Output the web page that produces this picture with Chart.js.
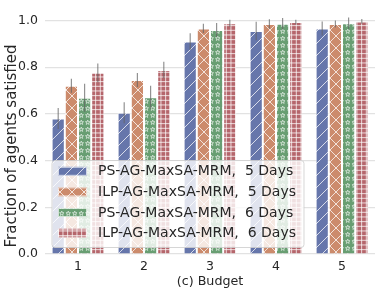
<!DOCTYPE html>
<html><head><meta charset="utf-8">
<script src="https://cdn.jsdelivr.net/npm/chart.js@4.4.1/dist/chart.umd.min.js"></script>
<style>html,body{margin:0;padding:0;background:#fff;overflow:hidden}</style>
</head><body>
<canvas id="c" width="391" height="292"></canvas>
<script>
const categories = ['1', '2', '3', '4', '5'];
const seriesNames = ['PS-AG-MaxSA-MRM,  5 Days', 'ILP-AG-MaxSA-MRM,  5 Days', 'PS-AG-MaxSA-MRM,  6 Days', 'ILP-AG-MaxSA-MRM,  6 Days'];
const ps5 = [0.580, 0.605, 0.910, 0.955, 0.966];
const ilp5 = [0.720, 0.745, 0.966, 0.985, 0.985];
const ps6 = [0.669, 0.671, 0.959, 0.986, 0.988];
const ilp6 = [0.776, 0.788, 0.988, 0.993, 0.996];
const ps5Err = [0.045, 0.045, 0.035, 0.040, 0.030];
const ilp5Err = [0.030, 0.030, 0.020, 0.020, 0.015];
const ps6Err = [0.060, 0.050, 0.030, 0.025, 0.025];
const ilp6Err = [0.040, 0.035, 0.015, 0.010, 0.010];
const yTicks = [0, 0.2, 0.4, 0.6, 0.8, 1.0];
const xTitle = '(c) Budget';
const yTitle = 'Fraction of agents satisfied';

const FONT = 'DejaVu Sans';
const TXT = '#262626';
const colors = ['#6676ab', '#cc8b6c', '#689e72', '#b5666c'];
const kinds = ['slash', 'cross', 'star', 'plus'];
const HATCH = 'rgba(255,255,255,0.75)';

function makePattern(color, kind) {
  const c = document.createElement('canvas');
  let w = 12, h = 12;
  if (kind === 'star') { w = 13; h = 14; }
  if (kind === 'plus') { w = 14; h = 14; }
  c.width = w; c.height = h;
  const g = c.getContext('2d');
  g.fillStyle = color; g.fillRect(0, 0, w, h);
  g.strokeStyle = HATCH; g.lineWidth = 1;
  const line = (a, b, cc, d) => { g.beginPath(); g.moveTo(a, b); g.lineTo(cc, d); g.stroke(); };
  if (kind === 'slash' || kind === 'cross') {
    line(-1, h + 1, w + 1, -1);
    line(-1, 1, 1, -1);
    line(w - 1, h + 1, w + 1, h - 1);
  }
  if (kind === 'cross') {
    line(-1, -1, w + 1, h + 1);
    line(w - 1, -1, w + 1, 1);
    line(-1, h - 1, 1, h + 1);
  }
  if (kind === 'plus') {
    for (let k = 0; k < 3; k++) {
      const p = 2.3 + k * 14 / 3;
      line(p, 0, p, h); line(0, p, w, p);
    }
  }
  if (kind === 'star') {
    g.lineWidth = 0.8;
    const pts = [[3.25, 3.5], [9.75, 3.5], [3.25, 10.5], [9.75, 10.5]];
    pts.forEach(([cx, cy]) => {
      g.beginPath();
      for (let i = 0; i < 10; i++) {
        const r = i % 2 === 0 ? 2.4 : 1.0;
        const a = -Math.PI / 2 + i * Math.PI / 5;
        const x = cx + r * Math.cos(a), y = cy + r * Math.sin(a);
        if (i === 0) g.moveTo(x, y); else g.lineTo(x, y);
      }
      g.closePath(); g.stroke();
    });
  }
  return document.getElementById('c').getContext('2d').createPattern(c, 'repeat');
}
const patterns = colors.map((col, i) => makePattern(col, kinds[i]));
const seriesValues = [ps5, ilp5, ps6, ilp6];
const seriesErrs = [ps5Err, ilp5Err, ps6Err, ilp6Err];

const errorBars = {
  id: 'errorBars',
  afterDatasetsDraw(chart) {
    const ctx = chart.ctx, ys = chart.scales.y;
    ctx.save();
    ctx.strokeStyle = 'rgba(100,100,100,0.7)';
    ctx.lineWidth = 1.2;
    chart.data.datasets.forEach((ds, i) => {
      const meta = chart.getDatasetMeta(i);
      meta.data.forEach((el, j) => {
        const v = ds.data[j], e = seriesErrs[i][j];
        ctx.beginPath();
        ctx.moveTo(el.x, ys.getPixelForValue(v - e));
        ctx.lineTo(el.x, ys.getPixelForValue(v + e));
        ctx.stroke();
      });
    });
    ctx.restore();
  },
  afterDraw(chart) {
    const ctx = chart.ctx;
    ctx.save();
    ctx.fillStyle = TXT;
    ctx.font = '15px "' + FONT + '"';
    ctx.textAlign = 'center'; ctx.textBaseline = 'middle';
    ctx.translate(12, 146); ctx.rotate(-Math.PI / 2);
    ctx.fillText(yTitle, 0, 0);
    ctx.restore();
    ctx.save();
    const lx = 52, ly = 160.5, lw = 252, lh = 87;
    ctx.beginPath();
    if (ctx.roundRect) ctx.roundRect(lx, ly, lw, lh, 3); else ctx.rect(lx, ly, lw, lh);
    ctx.fillStyle = 'rgba(255,255,255,0.8)';
    ctx.fill();
    ctx.strokeStyle = 'rgba(204,204,204,0.8)';
    ctx.lineWidth = 1;
    ctx.stroke();
    ctx.font = '14px "' + FONT + '"';
    ctx.textAlign = 'left'; ctx.textBaseline = 'middle';
    seriesNames.forEach((name, i) => {
      const cy = 171.3 + i * 20.6;
      ctx.fillStyle = patterns[i];
      ctx.fillRect(58, cy - 4.5, 29, 9);
      ctx.strokeStyle = 'rgba(255,255,255,0.7)';
      ctx.strokeRect(58.5, cy - 4, 28, 8);
      ctx.fillStyle = TXT;
      ctx.fillText(name, 98, cy + 0.5);
    });
    ctx.restore();
  }
};

new Chart(document.getElementById('c'), {
  type: 'bar',
  data: {
    labels: categories,
    datasets: seriesNames.map((n, i) => ({
      label: n,
      data: seriesValues[i],
      backgroundColor: patterns[i],
      borderColor: 'rgba(255,255,255,0.7)',
      borderWidth: 1,
      categoryPercentage: 0.8,
      barPercentage: 1.0
    }))
  },
  options: {
    responsive: false,
    animation: false,
    devicePixelRatio: 1,
    layout: { padding: { left: 0, right: 16, top: 8.8, bottom: 0 } },
    plugins: { legend: { display: false }, tooltip: { enabled: false } },
    scales: {
      x: {
        grid: { display: false, drawTicks: false },
        border: { display: false },
        ticks: { color: TXT, font: { family: FONT, size: 12.5 }, padding: 5 },
        title: { display: true, text: xTitle, color: TXT, font: { family: FONT, size: 12.7 }, padding: { top: 0, bottom: 3 } },
        afterFit(s) { s.height = 38; s.paddingLeft = 0; s.paddingRight = 0; }
      },
      y: {
        min: 0, max: 1.05,
        grid: { color: '#e2e2e2', lineWidth: 1.2, drawTicks: false },
        border: { display: false },
        afterBuildTicks(s) { s.ticks = yTicks.map(v => ({ value: v })); },
        ticks: { color: TXT, font: { family: FONT, size: 12.5 }, padding: 7, callback: v => Number(v).toFixed(1) },
        afterFit(s) { s.width = 45; s.paddingTop = 0; s.paddingBottom = 0; }
      }
    }
  },
  plugins: [errorBars]
});
</script>
</body></html>
